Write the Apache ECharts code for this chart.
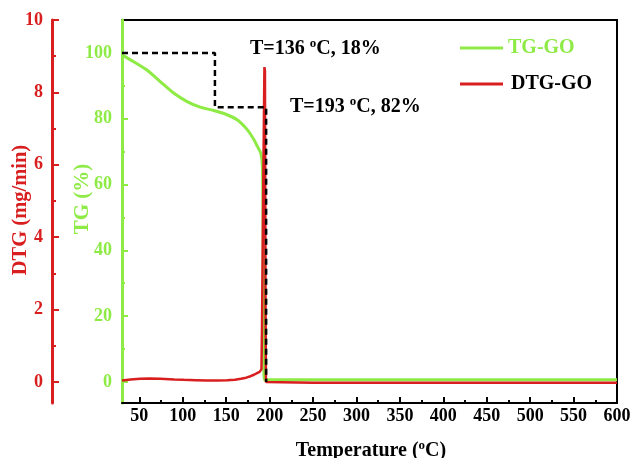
<!DOCTYPE html>
<html>
<head>
<meta charset="utf-8">
<script src="https://cdn.jsdelivr.net/npm/echarts@6/dist/echarts.min.js"></script>
<style>html,body{margin:0;padding:0;background:#fff}#c{width:632px;height:458px}</style>
</head>
<body>
<div id="c"></div>
<script>
// ---- data ----
var tgTemp = [30, 43, 58.6, 74, 89.4, 105, 120, 135.7, 151, 163, 174.4, 182, 186, 189.8, 191.7, 192.6, 193.4, 194, 250, 350, 450, 550, 600];
var tgValue = [99.4, 97.4, 94.8, 91.3, 87.8, 85.2, 83.5, 82.5, 81.2, 79.6, 76.6, 73.6, 71.5, 69.5, 65.4, 40, 5, 0.7, 0.7, 0.7, 0.7, 0.7, 0.7];
var dtgTemp = [30, 40, 51, 62, 74, 90, 101, 115, 128, 140, 151, 160, 167, 173, 178, 182, 186, 188.5, 190.6, 191.2, 192.5, 194, 194.6, 195.3, 195.8, 196.5, 250, 400, 600];
var dtgValue = [0.04, 0.07, 0.09, 0.1, 0.09, 0.07, 0.06, 0.05, 0.04, 0.04, 0.05, 0.06, 0.09, 0.12, 0.16, 0.2, 0.25, 0.28, 0.35, 1.5, 5, 8.7, 8.6, 2, 0, -0.02, -0.02, -0.02, -0.02];
var guideTemp = [30, 137, 137, 196, 196];
var guideTG = [100, 100, 83.5, 83.5, 0];
var xTicks = [50, 100, 150, 200, 250, 300, 350, 400, 450, 500, 550, 600];
var xMinorTicks = [75, 125, 175, 225, 275, 325, 375, 425, 475, 525, 575];
var tgTicks = [0, 20, 40, 60, 80, 100];
var tgMinorTicks = [10, 30, 50, 70, 90];
var dtgTicks = [0, 2, 4, 6, 8, 10];
var dtgMinorTicks = [1, 3, 5, 7, 9];
var seriesNames = ['TG-GO', 'DTG-GO'];
var notes = ['T=136 {s|o}C, 18%', 'T=193 {s|o}C, 82%'];
var axisTitles = ['Temperature ({s|o}C)', 'TG (%)', 'DTG (mg/min)'];

// ---- style ----
var GREEN = '#8eea44', RED = '#d81e1e', FONT = '"Liberation Serif","Times New Roman",serif';
function zip(a, b) { return a.map(function (v, i) { return [v, b[i]]; }); }
var lbl = function (color) { return { color: color, fontFamily: FONT, fontWeight: 'bold', fontSize: 18 }; };
var supRich = { s: { fontFamily: FONT, fontWeight: 'bold', fontSize: 13, lineHeight: 13, padding: [0, 0, 10, 0], fill: '#000' } };

var chart = echarts.init(document.getElementById('c'));
var xBase = { type: 'value', min: 30, max: 600, splitLine: { show: false }, position: 'bottom' };
var tgBase = { type: 'value', min: -6.4, max: 110, splitLine: { show: false }, position: 'left' };
var dtgBase = { type: 'value', min: -0.58, max: 10, splitLine: { show: false }, position: 'left', offset: 70 };

chart.setOption({
  animation: false,
  grid: { left: 122, right: 15, top: 20, bottom: 55, show: true, borderColor: '#000', borderWidth: 2, outerBoundsMode: 'none' },
  legend: {
    orient: 'vertical', left: 455, top: 33, itemGap: 16, itemWidth: 43, itemHeight: 3, icon: 'rect', itemGap: 16,
    textStyle: { fontFamily: FONT, fontWeight: 'bold', fontSize: 20 },
    data: [
      { name: seriesNames[0], textStyle: { color: GREEN } },
      { name: seriesNames[1], textStyle: { color: '#000', padding: [0, 0, 0, 3] } }
    ]
  },
  xAxis: [
    Object.assign({}, xBase, {
      axisLine: { onZero: false, lineStyle: { color: '#000', width: 2 } },
      axisTick: { inside: true, length: 6, lineStyle: { width: 2, color: '#000' }, customValues: xTicks },
      axisLabel: Object.assign(lbl('#000'), { margin: 4, customValues: xTicks })
    }),
    Object.assign({}, xBase, {
      axisLine: { show: false, onZero: false },
      axisTick: { inside: true, length: 3, lineStyle: { width: 2, color: '#000' }, customValues: xMinorTicks },
      axisLabel: { show: false }
    })
  ],
  yAxis: [
    Object.assign({}, tgBase, {
      axisLine: { show: true, onZero: false, lineStyle: { color: GREEN, width: 3 } },
      axisTick: { show: true, inside: true, length: 6, lineStyle: { width: 2, color: GREEN }, customValues: tgTicks },
      axisLabel: Object.assign(lbl(GREEN), { margin: 10, customValues: tgTicks })
    }),
    Object.assign({}, tgBase, {
      axisLine: { show: false, onZero: false },
      axisTick: { show: true, inside: true, length: 3, lineStyle: { width: 2, color: GREEN }, customValues: tgMinorTicks },
      axisLabel: { show: false }
    }),
    Object.assign({}, dtgBase, {
      axisLine: { show: true, onZero: false, lineStyle: { color: RED, width: 3 } },
      axisTick: { show: true, inside: true, length: 7, lineStyle: { width: 2, color: RED }, customValues: dtgTicks },
      axisLabel: Object.assign(lbl(RED), { margin: 9, customValues: dtgTicks })
    }),
    Object.assign({}, dtgBase, {
      axisLine: { show: false, onZero: false },
      axisTick: { show: true, inside: true, length: 4, lineStyle: { width: 2, color: RED }, customValues: dtgMinorTicks },
      axisLabel: { show: false }
    })
  ],
  series: [
    { name: seriesNames[0], type: 'line', xAxisIndex: 0, yAxisIndex: 0, data: zip(tgTemp, tgValue), showSymbol: false, symbol: 'none',
      color: GREEN, smooth: 0.3, lineStyle: { color: GREEN, width: 3 }, z: 3 },
    { name: seriesNames[1], type: 'line', xAxisIndex: 0, yAxisIndex: 2, data: zip(dtgTemp, dtgValue), showSymbol: false, symbol: 'none',
      color: RED, lineStyle: { color: RED, width: 2.5 }, z: 4 },
    { name: 'guide', type: 'line', xAxisIndex: 0, yAxisIndex: 0, data: zip(guideTemp, guideTG), showSymbol: false, symbol: 'none',
      lineStyle: { color: '#000', width: 2.5, type: [6, 4] }, z: 5, silent: true }
  ],
  graphic: [
    { type: 'text', x: 371, y: 451,
      style: { text: axisTitles[0], rich: supRich, fill: '#000', font: 'bold 20px ' + FONT, align: 'center', verticalAlign: 'middle' } },
    { type: 'text', x: 83, y: 199, rotation: Math.PI / 2,
      style: { text: axisTitles[1], fill: GREEN, font: 'bold 21px ' + FONT, align: 'center', verticalAlign: 'middle' } },
    { type: 'text', x: 21, y: 210, rotation: Math.PI / 2,
      style: { text: axisTitles[2], fill: RED, font: 'bold 20.5px ' + FONT, align: 'center', verticalAlign: 'middle' } },
    { type: 'text', x: 250, y: 49,
      style: { text: notes[0], rich: supRich, fill: '#000', font: 'bold 20px ' + FONT, align: 'left', verticalAlign: 'middle' } },
    { type: 'text', x: 290, y: 107,
      style: { text: notes[1], rich: supRich, fill: '#000', font: 'bold 20px ' + FONT, align: 'left', verticalAlign: 'middle' } }
  ]
});
</script>
</body>
</html>
